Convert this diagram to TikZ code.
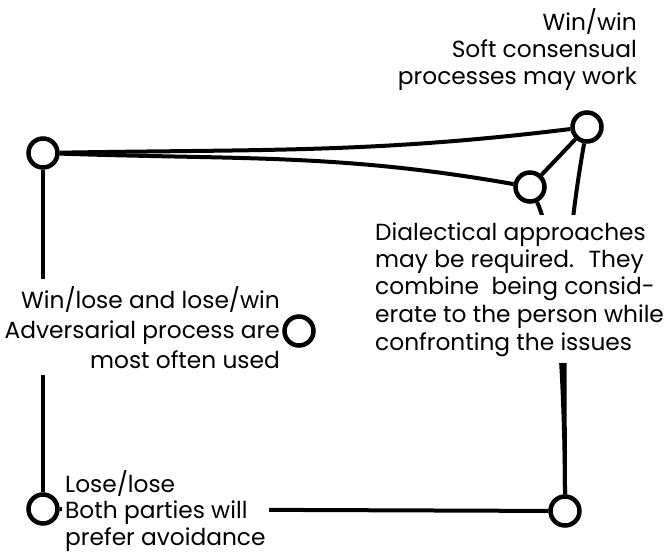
\documentclass[tikz,border=0pt]{standalone}
\usepackage{fontspec}
\setmainfont{Poppins}

\begin{document}
\begin{tikzpicture}[x=1pt, y=-1pt,
    dot/.style={draw, circle, line width=4.5pt, minimum size=29pt, inner sep=0pt, fill=white},
    link/.style={line width=4pt},
    lbl/.style={fill=white, inner xsep=4pt, inner ysep=7pt, font=\fontsize{23.3}{27}\selectfont}]
    \useasboundingbox (0, 0) rectangle (664, 553);
    \node [dot] (tl) at (43, 153) {};
    \node [dot] (tr) at (587, 127) {};
    \node [dot] (mr) at (530, 187) {};
    \node [dot] (bl) at (43, 509) {};
    \node [dot] (br) at (565, 511) {};
    \draw [link] (tl) -- (bl);
    \draw [link] (bl) -- (br);
    \draw [link, out=1, in=187] (tl) to (tr);
    \draw [link, out=-2, in=170] (tl) to (mr);
    \draw [link] (tr) -- (mr);
    \draw [link, out=260, in=90] (tr) to (br);
    \draw [link, out=295, in=90, looseness=0.5] (mr) to (br);
    % texts sit on white, so they cut the lines behind them
    \node [lbl, align=right, anchor=base east] (win) at (641, 85)
        {Win/win\\Soft consensual\\processes may work};
    \node [lbl, align=right, anchor=base east, font=\fontsize{23.3}{30}\selectfont] (adv) at (284, 368)
        {Win/lose and lose/win\\Adversarial process are\\most often used};
    \node [lbl, align=left, anchor=base west, font=\fontsize{23.3}{27.5}\selectfont] (dia) at (371, 350)
        {Dialectical approaches\\may be required.~ They\\combine~ being consid-\\erate to the person while\\confronting the issues};
    \node [lbl, align=left, anchor=base west, inner xsep=3pt, font=\fontsize{23.3}{26.5}\selectfont] (lose) at (62, 545)
        {Lose/lose\\Both parties will\\prefer avoidance};
    \node [dot, fill=none] (mid) at (299, 331) {};
\end{tikzpicture}
\end{document}
